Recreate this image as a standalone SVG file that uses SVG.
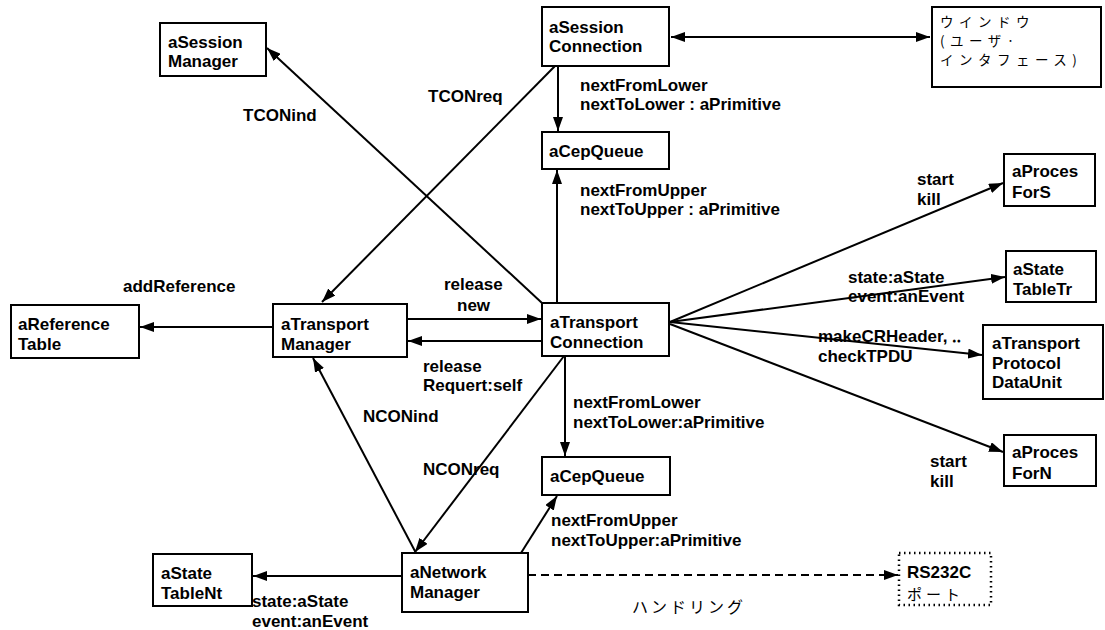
<svg xmlns="http://www.w3.org/2000/svg" width="1105" height="630" viewBox="0 0 1105 630">
<defs>
<marker id="ah" viewBox="0 0 14 10" refX="14" refY="5" markerWidth="14" markerHeight="10" markerUnits="userSpaceOnUse" orient="auto-start-reverse">
<path d="M0,0 L14,5 L0,10 Z" fill="#000"/>
</marker>
<style>
.box{fill:#fff;stroke:#000;stroke-width:2}
.dot{fill:#fff;stroke:#000;stroke-width:2.5;stroke-dasharray:1.5,3.5}
.t{font-family:"Liberation Sans",Arial,sans-serif;font-weight:bold;font-size:17px;fill:#000}
.j{font-family:"Noto Sans CJK JP","Liberation Sans",sans-serif;font-size:13.5px;letter-spacing:5.5px;fill:#000}
.jl{font-family:"Noto Sans CJK JP","Liberation Sans",sans-serif;font-size:16px;letter-spacing:3px;fill:#000}
.c{stroke:#000;stroke-width:2;fill:none}
.ca{stroke:#000;stroke-width:2;fill:none;marker-end:url(#ah)}
</style>
</defs>
<rect width="1105" height="630" fill="#fff"/>
<g id="connectors">
<line class="c" x1="671" y1="37" x2="930" y2="37" marker-start="url(#ah)" marker-end="url(#ah)"/>
<line class="ca" x1="558" y1="66" x2="558" y2="131"/>
<line class="ca" x1="557" y1="303" x2="557" y2="170"/>
<line class="ca" x1="555" y1="66" x2="322" y2="302"/>
<line class="ca" x1="542" y1="303" x2="267" y2="48"/>
<line class="ca" x1="273" y1="327" x2="140" y2="327"/>
<line class="ca" x1="407" y1="319" x2="541" y2="319"/>
<line class="ca" x1="542" y1="341" x2="408" y2="341"/>
<line class="ca" x1="565" y1="356" x2="565" y2="456"/>
<line class="ca" x1="564" y1="356" x2="415" y2="552"/>
<line class="ca" x1="416" y1="553" x2="313" y2="358"/>
<line class="ca" x1="521" y1="553" x2="557" y2="496"/>
<line class="ca" x1="402" y1="576" x2="253" y2="576"/>
<line class="ca" x1="528" y1="575" x2="898" y2="575" stroke-dasharray="8,5"/>
<line class="ca" x1="670" y1="322" x2="1003" y2="183"/>
<line class="ca" x1="670" y1="322" x2="1005" y2="277"/>
<line class="ca" x1="670" y1="322" x2="982" y2="355"/>
<line class="ca" x1="670" y1="324" x2="1003" y2="452"/>
</g>
<g id="labels">
<text class="t" x="580" y="91">nextFromLower</text>
<text class="t" x="580" y="110">nextToLower : aPrimitive</text>
<text class="t" x="428" y="102">TCONreq</text>
<text class="t" x="243" y="121">TCONind</text>
<text class="t" x="580" y="196">nextFromUpper</text>
<text class="t" x="580" y="215">nextToUpper : aPrimitive</text>
<text class="t" x="917" y="185">start</text>
<text class="t" x="917" y="205">kill</text>
<text class="t" x="123" y="292">addReference</text>
<text class="t" x="444" y="290">release</text>
<text class="t" x="457" y="311">new</text>
<text class="t" x="423" y="372">release</text>
<text class="t" x="423" y="391">Requert:self</text>
<text class="t" x="363" y="422">NCONind</text>
<text class="t" x="573" y="408">nextFromLower</text>
<text class="t" x="573" y="428">nextToLower:aPrimitive</text>
<text class="t" x="423" y="475">NCONreq</text>
<text class="t" x="551" y="526">nextFromUpper</text>
<text class="t" x="551" y="546">nextToUpper:aPrimitive</text>
<text class="t" x="252" y="607">state:aState</text>
<text class="t" x="252" y="627">event:anEvent</text>
<text class="jl" x="632" y="613">ハンドリング</text>
<text class="t" x="848" y="283">state:aState</text>
<text class="t" x="848" y="302">event:anEvent</text>
<text class="t" x="818" y="342">makeCRHeader, ‥</text>
<text class="t" x="818" y="362">checkTPDU</text>
<text class="t" x="930" y="467">start</text>
<text class="t" x="930" y="487">kill</text>
</g>
<g id="aSessionManager">
<rect class="box" x="160" y="23" width="106" height="53"/>
<text class="t" x="168" y="48">aSession</text>
<text class="t" x="168" y="67">Manager</text>
</g>
<g id="aSessionConnection">
<rect class="box" x="542" y="7" width="127" height="59"/>
<text class="t" x="549" y="33">aSession</text>
<text class="t" x="549" y="52">Connection</text>
</g>
<g id="window">
<rect class="box" x="932" y="7" width="169" height="80"/>
<text class="j" x="940" y="27">ウインドウ</text>
<text class="j" x="940" y="46">(ユーザ·</text>
<text class="j" x="940" y="65">インタフェース)</text>
</g>
<g id="aCepQueueTop">
<rect class="box" x="542" y="132" width="127" height="37"/>
<text class="t" x="549" y="157">aCepQueue</text>
</g>
<g id="aProcesForS">
<rect class="box" x="1004" y="154" width="91" height="52"/>
<text class="t" x="1012" y="177">aProces</text>
<text class="t" x="1012" y="198">ForS</text>
</g>
<g id="aReferenceTable">
<rect class="box" x="11" y="305" width="128" height="53"/>
<text class="t" x="18" y="330">aReference</text>
<text class="t" x="18" y="350">Table</text>
</g>
<g id="aTransportManager">
<rect class="box" x="273" y="304" width="134" height="53"/>
<text class="t" x="281" y="330">aTransport</text>
<text class="t" x="281" y="350">Manager</text>
</g>
<g id="aTransportConnection">
<rect class="box" x="542" y="303" width="127" height="53"/>
<text class="t" x="550" y="328">aTransport</text>
<text class="t" x="550" y="348">Connection</text>
</g>
<g id="aStateTableTr">
<rect class="box" x="1006" y="251" width="90" height="51"/>
<text class="t" x="1013" y="275">aState</text>
<text class="t" x="1013" y="295">TableTr</text>
</g>
<g id="aTransportProtocolDataUnit">
<rect class="box" x="983" y="325" width="120" height="74"/>
<text class="t" x="992" y="349">aTransport</text>
<text class="t" x="992" y="369">Protocol</text>
<text class="t" x="992" y="388">DataUnit</text>
</g>
<g id="aProcesForN">
<rect class="box" x="1004" y="435" width="92" height="51"/>
<text class="t" x="1012" y="458">aProces</text>
<text class="t" x="1012" y="479">ForN</text>
</g>
<g id="aCepQueueBottom">
<rect class="box" x="542" y="457" width="128" height="38"/>
<text class="t" x="550" y="482">aCepQueue</text>
</g>
<g id="aStateTableNt">
<rect class="box" x="153" y="554" width="99" height="52"/>
<text class="t" x="161" y="579">aState</text>
<text class="t" x="161" y="599">TableNt</text>
</g>
<g id="aNetworkManager">
<rect class="box" x="402" y="553" width="126" height="59"/>
<text class="t" x="410" y="578">aNetwork</text>
<text class="t" x="410" y="598">Manager</text>
</g>
<g id="rs232c">
<rect class="dot" x="899" y="553" width="92" height="52"/>
<text class="t" x="907" y="578">RS232C</text>
<text class="j" x="907" y="600" style="font-size:15px;letter-spacing:4px">ポート</text>
</g>
</svg>
